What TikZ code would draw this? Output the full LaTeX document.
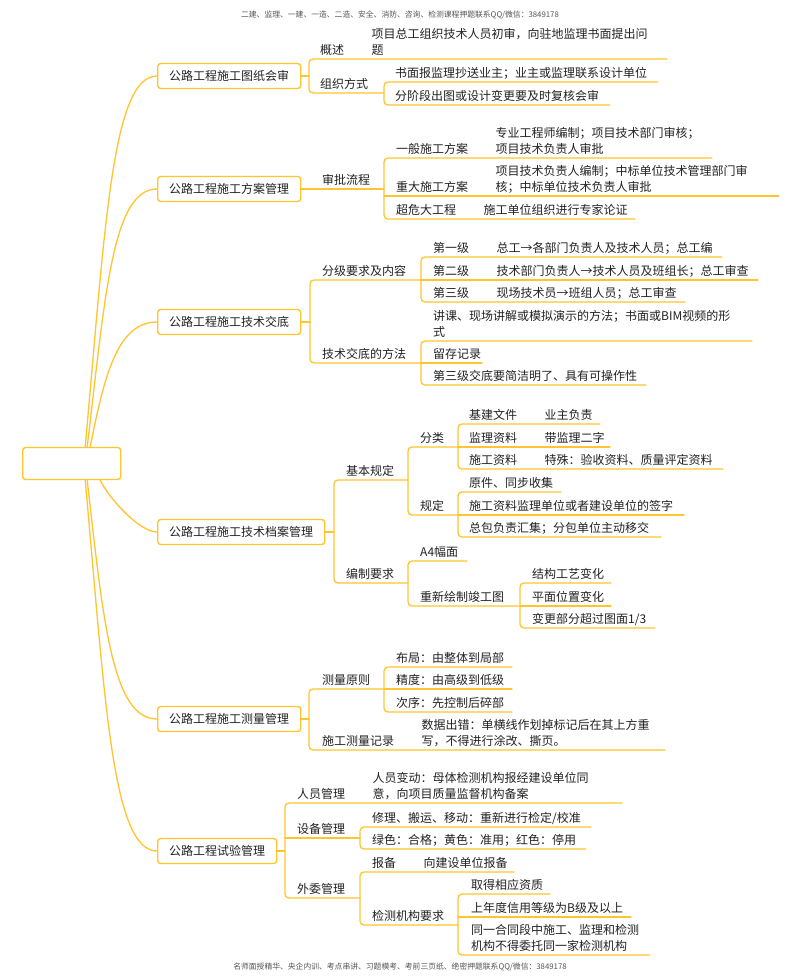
\documentclass[tikz,border=0pt]{standalone}
\usepackage{fontspec}
\setmainfont{Noto Sans CJK SC}
\usepackage{tikz}
\usetikzlibrary{positioning,calc}
\definecolor{mapgold}{RGB}{255,197,46}
\definecolor{inkgray}{RGB}{34,34,34}
\definecolor{notegray}{RGB}{85,85,85}

\begin{document}
\begin{tikzpicture}[x=1pt, y=-1pt,
    topic/.style={draw=mapgold, line width=1.4pt, rounded corners=3pt, fill=white,
        text=inkgray, font=\fontsize{12}{15}\selectfont, inner xsep=11.5pt,
        minimum height=25pt, anchor=west},
    item/.style={anchor=base west, inner sep=0pt, text=inkgray,
        font=\fontsize{12}{16}\selectfont, align=left},
    branch/.style={draw=mapgold, line width=1.3pt, line cap=round},
    bracket/.style={branch, rounded corners=4pt},
    note/.style={text=notegray, font=\fontsize{7.8}{9}\selectfont}
]
    \fill[white] (0,0) rectangle (800,980);
    \useasboundingbox (0,0) rectangle (800,980);
    % header and footer
    \node[note] (head) at (400,15) {二建、监理、一建、一造、二造、安全、消防、咨询、检测课程押题联系QQ/微信：3849178};
    \node[note] (foot) at (400,967) {名师面授精华、央企内训、考点串讲、习题模考、考前三页纸、绝密押题联系QQ/微信：3849178};
    % root and topics
    \node[topic, minimum width=98pt, minimum height=32pt] (root) at (22,463.5) {};
    \node[topic] (rev) at (157,76) {公路工程施工图纸会审};
    \node[topic] (plan) at (157,189) {公路工程施工方案管理};
    \node[topic] (brief) at (157,322) {公路工程施工技术交底};
    \node[topic] (arch) at (157,532) {公路工程施工技术档案管理};
    \node[topic] (surv) at (157,719) {公路工程施工测量管理};
    \node[topic] (test) at (157,851) {公路工程试验管理};
    \draw[branch] ([xshift=13.5pt]root.north) .. controls +(20,-220) and +(-45,0) .. (rev.west);
    \draw[branch] ([xshift=15.5pt]root.north) .. controls +(18,-150) and +(-45,0) .. (plan.west);
    \draw[branch] ([xshift=18.5pt]root.north) .. controls +(14,-70) and +(-40,0) .. (brief.west);
    \draw[branch] ([xshift=28.5pt]root.south) .. controls +(10,20) and +(-17,0) .. (arch.west);
    \draw[branch] ([xshift=15.5pt]root.south) .. controls +(16,140) and +(-45,0) .. (surv.west);
    \draw[branch] ([xshift=13.5pt]root.south) .. controls +(20,220) and +(-45,0) .. (test.west);

    % 图纸会审
    \coordinate (rev-j) at (309,76);
    \draw[branch] (rev.east) -- (rev-j);
    \node[item] (rev-sum) at (320,54.5) {概述};
    \node[item, base right=27pt of rev-sum] (rev-sum-t) {项目总工组织技术人员初审，向驻地监理书面提出问\\题};
    \node[item] (rev-org) at (320,88.5) {组织方式};
    \coordinate (rev-sum-e) at (667,59);
    \coordinate (rev-org-e) at (384,93);
    \draw[bracket] (rev-sum-e) -| (rev-j) |- (rev-org-e);
    \node[item] (org1) at (395,77.5) {书面报监理抄送业主；业主或监理联系设计单位};
    \node[item] (org2) at (395,100.5) {分阶段出图或设计变更要及时复核会审};
    \coordinate (org1-e) at (658,82);
    \coordinate (org2-e) at (610,105);
    \draw[bracket] (org1-e) -| (rev-org-e) |- (org2-e);

    % 方案管理
    \coordinate (plan-j) at (384,189);
    \draw[branch] (plan.east) -- (plan-j);
    \node[item] (plan-app) at (322,184.5) {审批流程};
    \node[item] (plan-gen) at (396,153.5) {一般施工方案};
    \node[item, base right=27pt of plan-gen] (plan-gen-t) {专业工程师编制；项目技术部门审核；\\项目技术负责人审批};
    \node[item] (plan-maj) at (396,191.5) {重大施工方案};
    \node[item, base right=27pt of plan-maj] (plan-maj-t) {项目技术负责人编制；中标单位技术管理部门审\\核；中标单位技术负责人审批};
    \node[item] (plan-big) at (396,214.5) {超危大工程};
    \node[item, base right=27pt of plan-big] (plan-big-t) {施工单位组织进行专家论证};
    \coordinate (plan-gen-e) at (712,158);
    \coordinate (plan-maj-e) at (779,196);
    \coordinate (plan-big-e) at (635,219);
    \draw[bracket] (plan-gen-e) -| (plan-j) |- (plan-big-e);
    \draw[branch] (plan-maj-e -| plan-j) -- (plan-maj-e);

    % 技术交底
    \coordinate (brief-j) at (310,322);
    \draw[branch] (brief.east) -- (brief-j);
    \node[item] (brief-lv) at (322,275.5) {分级要求及内容};
    \node[item] (brief-way) at (322,358.5) {技术交底的方法};
    \coordinate (brief-lv-e) at (421,280);
    \coordinate (brief-way-e) at (421,363);
    \draw[bracket] (brief-lv-e) -| (brief-j) |- (brief-way-e);
    \node[item] (lv1) at (433,252.5) {第一级};
    \node[item, base right=27pt of lv1] (lv1-t) {总工→各部门负责人及技术人员；总工编};
    \node[item] (lv2) at (433,275.5) {第二级};
    \node[item, base right=27pt of lv2] (lv2-t) {技术部门负责人→技术人员及班组长；总工审查};
    \node[item] (lv3) at (433,297.5) {第三级};
    \node[item, base right=27pt of lv3] (lv3-t) {现场技术员→班组人员；总工审查};
    \coordinate (lv1-e) at (722,257);
    \coordinate (lv2-e) at (758,280);
    \coordinate (lv3-e) at (685,302);
    \draw[bracket] (lv1-e) -| (brief-lv-e) |- (lv3-e);
    \draw[branch] (brief-lv-e) -- (lv2-e);
    \node[item] (way1) at (433,336.5) {讲课、现场讲解或模拟演示的方法；书面或BIM视频的形\\式};
    \node[item] (way2) at (433,358.5) {留存记录};
    \node[item] (way3) at (433,380.5) {第三级交底要简洁明了、具有可操作性};
    \coordinate (way1-e) at (752,341);
    \coordinate (way2-e) at (482,363);
    \coordinate (way3-e) at (646,385);
    \draw[bracket] (way1-e) -| (brief-way-e) |- (way3-e);
    \draw[branch] (brief-way-e) -- (way2-e);

    % 技术档案管理
    \coordinate (arch-j) at (334,532);
    \draw[branch] (arch.east) -- (arch-j);
    \node[item] (arch-base) at (346,475.5) {基本规定};
    \node[item] (arch-make) at (346,578.5) {编制要求};
    \coordinate (arch-base-e) at (408,480);
    \coordinate (arch-make-e) at (408,583);
    \draw[bracket] (arch-base-e) -| (arch-j) |- (arch-make-e);
    \node[item] (cls) at (420,442.5) {分类};
    \node[item] (rule) at (420,510.5) {规定};
    \coordinate (cls-e) at (458,447);
    \coordinate (rule-e) at (458,515);
    \draw[bracket] (cls-e) -| (arch-base-e) |- (rule-e);
    \node[item] (cls1) at (469,419.5) {基建文件};
    \node[item, base right=27pt of cls1] (cls1-t) {业主负责};
    \node[item] (cls2) at (469,442.5) {监理资料};
    \node[item, base right=27pt of cls2] (cls2-t) {带监理二字};
    \node[item] (cls3) at (469,464.5) {施工资料};
    \node[item, base right=27pt of cls3] (cls3-t) {特殊：验收资料、质量评定资料};
    \coordinate (cls1-e) at (600,424);
    \coordinate (cls2-e) at (610,447);
    \coordinate (cls3-e) at (723,469);
    \draw[bracket] (cls1-e) -| (cls-e) |- (cls3-e);
    \draw[branch] (cls-e) -- (cls2-e);
    \node[item] (rule1) at (469,487.5) {原件、同步收集};
    \node[item] (rule2) at (469,510.5) {施工资料监理单位或者建设单位的签字};
    \node[item] (rule3) at (469,532.5) {总包负责汇集；分包单位主动移交};
    \coordinate (rule1-e) at (561,492);
    \coordinate (rule2-e) at (684,515);
    \coordinate (rule3-e) at (661,537);
    \draw[bracket] (rule1-e) -| (rule-e) |- (rule3-e);
    \draw[branch] (rule-e) -- (rule2-e);
    \node[item] (make1) at (420,556.5) {A4幅面};
    \node[item] (make2) at (420,601.5) {重新绘制竣工图};
    \coordinate (make1-e) at (467,561);
    \coordinate (make2-e) at (520,606);
    \draw[bracket] (make1-e) -| (arch-make-e) |- (make2-e);
    \node[item] (chg1) at (532,578.5) {结构工艺变化};
    \node[item] (chg2) at (532,601.5) {平面位置变化};
    \node[item] (chg3) at (532,623.5) {变更部分超过图面1/3};
    \coordinate (chg1-e) at (611,583);
    \coordinate (chg2-e) at (611,606);
    \coordinate (chg3-e) at (655,628);
    \draw[bracket] (chg1-e) -| (make2-e) |- (chg3-e);
    \draw[branch] (make2-e) -- (chg2-e);

    % 测量管理
    \coordinate (surv-j) at (309,719);
    \draw[branch] (surv.east) -- (surv-j);
    \node[item] (surv-rule) at (322,684.5) {测量原则};
    \node[item] (surv-rec) at (322,745.5) {施工测量记录};
    \node[item, base right=27pt of surv-rec] (surv-rec-t) {数据出错：单横线作划掉标记后在其上方重\\写，不得进行涂改、撕页。};
    \coordinate (surv-rule-e) at (384,689);
    \coordinate (surv-rec-e) at (665,750);
    \draw[bracket] (surv-rule-e) -| (surv-j) |- (surv-rec-e);
    \node[item] (sr1) at (396,662.5) {布局：由整体到局部};
    \node[item] (sr2) at (396,684.5) {精度：由高级到低级};
    \node[item] (sr3) at (396,707.5) {次序：先控制后碎部};
    \coordinate (sr1-e) at (512,667);
    \coordinate (sr2-e) at (512,689);
    \coordinate (sr3-e) at (512,712);
    \draw[bracket] (sr1-e) -| (surv-rule-e) |- (sr3-e);
    \draw[branch] (surv-rule-e) -- (sr2-e);

    % 试验管理
    \coordinate (test-j) at (285,851);
    \draw[branch] (test.east) -- (test-j);
    \node[item] (staff) at (297,798.5) {人员管理};
    \node[item, base right=27pt of staff] (staff-t) {人员变动：母体检测机构报经建设单位同\\意，向项目质量监督机构备案};
    \node[item] (equip) at (297,833.5) {设备管理};
    \node[item] (outs) at (297,893.5) {外委管理};
    \coordinate (staff-e) at (622,803);
    \coordinate (equip-e) at (360,838);
    \coordinate (outs-e) at (360,898);
    \draw[bracket] (staff-e) -| (test-j) |- (outs-e);
    \draw[branch] (equip-e -| test-j) -- (equip-e);
    \node[item] (eq1) at (372,822.5) {修理、搬运、移动：重新进行检定/校准};
    \node[item] (eq2) at (372,844.5) {绿色：合格；黄色：准用；红色：停用};
    \coordinate (eq1-e) at (591,827);
    \coordinate (eq2-e) at (586,849);
    \draw[bracket] (eq1-e) -| (equip-e) |- (eq2-e);
    \node[item] (out1) at (372,867.5) {报备};
    \node[item, base right=27pt of out1] (out1-t) {向建设单位报备};
    \node[item] (out2) at (372,920.5) {检测机构要求};
    \coordinate (out1-e) at (514,872);
    \coordinate (out2-e) at (458,925);
    \draw[bracket] (out1-e) -| (outs-e) |- (out2-e);
    \node[item] (req1) at (471,889.5) {取得相应资质};
    \node[item] (req2) at (471,912.5) {上年度信用等级为B级及以上};
    \node[item] (req3) at (471,950.5) {同一合同段中施工、监理和检测\\机构不得委托同一家检测机构};
    \coordinate (req1-e) at (550,894);
    \coordinate (req2-e) at (631,917);
    \coordinate (req3-e) at (650,955);
    \draw[bracket] (req1-e) -| (out2-e) |- (req3-e);
    \draw[branch] (req2-e -| out2-e) -- (req2-e);
\end{tikzpicture}
\end{document}
